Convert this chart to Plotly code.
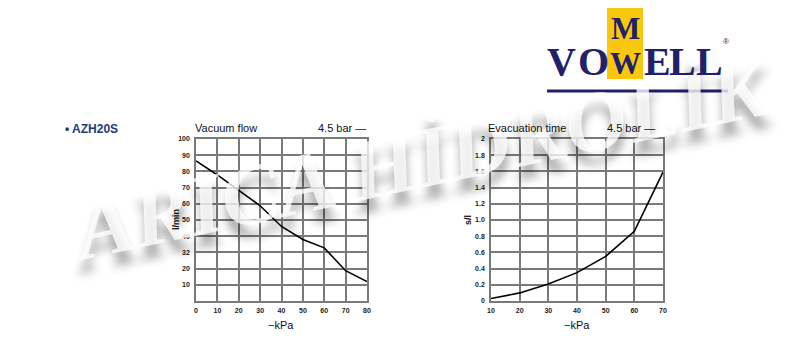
import plotly.graph_objects as go

# ---- data ----
flow_kpa = [0, 10, 20, 30, 40, 50, 60, 70, 80]
flow_lmin = [86.5, 77.8, 68.3, 58.8, 46.0, 38.0, 32.8, 18.7, 12.0]
flow_ytick_vals = [10, 20, 30, 40, 50, 60, 70, 80, 90, 100]
flow_ytick_text = ["10", "20", "32", "40", "50", "60", "70", "80", "90", "100"]
flow_xtick_vals = [0, 10, 20, 30, 40, 50, 60, 70, 80]

evac_kpa = [10, 20, 30, 40, 50, 60, 70]
evac_sl = [0.03, 0.10, 0.21, 0.35, 0.55, 0.86, 1.59]
evac_ytick_vals = [0, 0.2, 0.4, 0.6, 0.8, 1.0, 1.2, 1.4, 1.6, 1.8, 2.0]
evac_ytick_text = ["0", "0.2", "0.4", "0.6", "0.8", "1.0", "1.2", "1.4", "1.6", "1.8", "2"]
evac_xtick_vals = [10, 20, 30, 40, 50, 60, 70]

OFF = 8  # page body margin
W, H = 800 - OFF, 356 - OFF
def px(x):
    return (x - OFF) / W
def py(y):
    return 1 - (y - OFF) / H

GRID = "#7a7a7a"
NAVY = "#23206b"

fig = go.Figure()
fig.add_trace(go.Scatter(x=flow_kpa, y=flow_lmin, mode="lines",
                         line=dict(color="black", width=1.6),
                         xaxis="x", yaxis="y", showlegend=False, hoverinfo="skip"))
fig.add_trace(go.Scatter(x=evac_kpa, y=evac_sl, mode="lines",
                         line=dict(color="black", width=1.6),
                         xaxis="x2", yaxis="y2", showlegend=False, hoverinfo="skip"))

tickfont = dict(family="Liberation Sans", size=7, color="#222", weight="bold")
ax_common = dict(showgrid=True, gridcolor=GRID, gridwidth=1.5, showline=True,
                 linecolor=GRID, linewidth=1.5, mirror=True, zeroline=False,
                 ticks="", tickfont=tickfont, fixedrange=True, automargin=False)

ydom = [py(301), py(139)]
fig.update_layout(
    width=W, height=H,
    margin=dict(l=0, r=0, t=0, b=0, pad=0),
    paper_bgcolor="white", plot_bgcolor="white",
    xaxis=dict(domain=[px(196), px(367)], range=[0, 80], tickvals=flow_xtick_vals,
               anchor="y", ticklabelstandoff=2, **ax_common),
    yaxis=dict(domain=ydom, range=[0, 100], tickvals=flow_ytick_vals,
               ticktext=flow_ytick_text, anchor="x", ticklabelstandoff=3, **ax_common),
    xaxis2=dict(domain=[px(491), px(663)], range=[10, 70], tickvals=evac_xtick_vals,
                anchor="y2", ticklabelstandoff=2, **ax_common),
    yaxis2=dict(domain=ydom, range=[0, 2], tickvals=evac_ytick_vals,
                ticktext=evac_ytick_text, anchor="x2", ticklabelstandoff=3, **ax_common),
)

ann = []
def text(x, y, s, size=11, color="#111", xanchor="left", yanchor="middle",
         family="Liberation Sans", weight="normal", angle=0, **kw):
    ann.append(dict(x=px(x), y=py(y), xref="paper", yref="paper", text=s,
                    showarrow=False, xanchor=xanchor, yanchor=yanchor, textangle=angle,
                    font=dict(size=size, color=color, family=family, weight=weight), **kw))

# watermark (first, so other labels sit on top of it)
ann.append(dict(x=px(422), y=py(158), xref="paper", yref="paper",
                text="ARICA HİDROLİK", showarrow=False, textangle=-12,
                xanchor="center", yanchor="middle",
                font=dict(family="Liberation Serif", size=86, weight="bold", style="italic",
                          color="rgba(255,255,255,0.78)",
                          shadow="-2px 13px 10px rgba(0,0,0,0.42)")))

# chart texts
text(63, 129, "• AZH20S", size=12, color="#1d3b7c", weight="bold")
text(193, 128, "Vacuum flow", size=11)
text(368, 128, "4.5 bar —", size=11, xanchor="right")
text(486, 128, "Evacuation time", size=11)
text(657, 128, "4.5 bar —", size=11, xanchor="right")
text(176, 220, "l/min", size=9, weight="bold", xanchor="center", angle=-90)
text(468, 220, "s/l", size=9, weight="bold", xanchor="center", angle=-90)
text(281, 325, "−kPa", size=11, xanchor="center")
text(577, 325, "−kPa", size=11, xanchor="center")

# logo
shapes = [
    dict(type="rect", xref="paper", yref="paper", x0=px(607), x1=px(643), y0=py(79), y1=py(8),
         fillcolor="#f9c80e", line=dict(width=0), layer="below"),
    dict(type="line", xref="paper", yref="paper", x0=px(547), x1=px(728), y0=py(91), y1=py(91),
         line=dict(color=NAVY, width=3)),
]
for ch, cx in [("V", 561), ("O", 593), ("E", 657), ("L", 682), ("L", 709)]:
    text(cx, 62, ch, size=40, color=NAVY, family="Liberation Serif", weight="bold",
         xanchor="center")
text(625, 63, "W", size=31, color=NAVY, family="Liberation Serif", weight="bold", xanchor="center")
text(625, 29, "M", size=31, color=NAVY, family="Liberation Serif", weight="bold", xanchor="center")
text(726, 41, "®", size=8, color=NAVY, xanchor="center")

fig.update_layout(annotations=ann, shapes=shapes)
fig.write_html("out.html")
